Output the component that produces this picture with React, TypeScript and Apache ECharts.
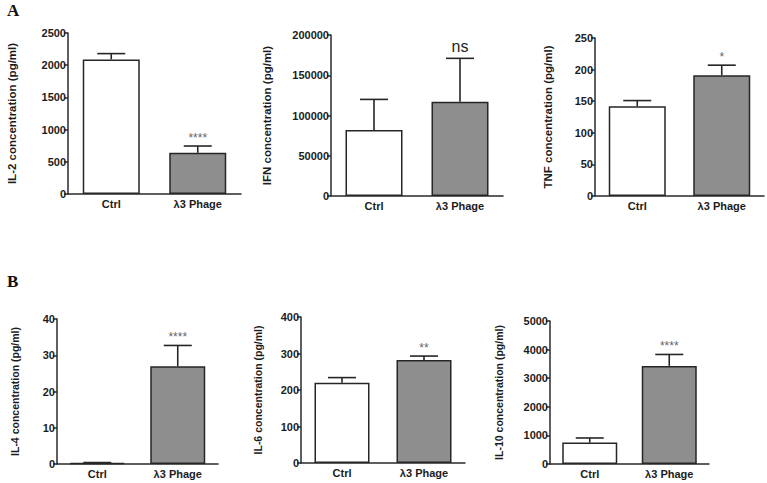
import React, { useEffect, useRef } from "react";
import * as echarts from "echarts";

// ---- data ----
const categories = ["Ctrl", "λ3 Phage"];

const il2Means = [2090, 640];
const il2Errors = [90, 105];
const ifnMeans = [82000, 117000];
const ifnErrors = [38000, 54000];
const tnfMeans = [142, 191];
const tnfErrors = [9, 16];
const il4Means = [0.3, 27];
const il4Errors = [0.1, 5.7];
const il6Means = [220, 282];
const il6Errors = [14, 11];
const il10Means = [750, 3430];
const il10Errors = [160, 400];

const yTitles = [
  "IL-2 concentration (pg/ml)",
  "IFN concentration (pg/ml)",
  "TNF concentration (pg/ml)",
  "IL-4 concentration (pg/ml)",
  "IL-6 concentration (pg/ml)",
  "IL-10 concentration (pg/ml)",
];
const yMaxes = [2500, 200000, 250, 40, 400, 5000];
const yIntervals = [500, 50000, 50, 10, 100, 1000];
const significance = [
  ["", "****"],
  ["", "ns"],
  ["", "*"],
  ["", "****"],
  ["", "**"],
  ["", "****"],
];

const means = [il2Means, ifnMeans, tnfMeans, il4Means, il6Means, il10Means];
const errors = [il2Errors, ifnErrors, tnfErrors, il4Errors, il6Errors, il10Errors];

// ---- layout ----
const grids = [
  { left: 68, top: 33, width: 173, height: 161, gap: 50, barW: 57, nameSize: 11.5 },
  { left: 331, top: 35, width: 172, height: 161, gap: 58, barW: 57, nameSize: 11.5 },
  { left: 595, top: 38, width: 169, height: 158, gap: 41, barW: 57, nameSize: 11.5 },
  { left: 57, top: 319, width: 161, height: 145, gap: 37, barW: 55, nameSize: 10.5 },
  { left: 301, top: 317, width: 164, height: 146, gap: 38, barW: 55, nameSize: 10.5 },
  { left: 550, top: 321, width: 159, height: 143, gap: 46, barW: 55, nameSize: 10.5 },
];

const FONT = "Liberation Sans, Arial, sans-serif";
const INK = "#1c1c1c";
const BAR_FILL = ["#ffffff", "#8e8e8e"];

export default function App() {
  const ref = useRef<HTMLDivElement>(null);
  useEffect(() => {
    if (!ref.current) return;
    const chart = echarts.init(ref.current, undefined, { renderer: "svg" });

    const grid: any[] = [];
    const xAxis: any[] = [];
    const yAxis: any[] = [];
    const series: any[] = [];

    grids.forEach((g, i) => {
      grid.push({ left: g.left, top: g.top, width: g.width, height: g.height, containLabel: false });
      xAxis.push({
        type: "category",
        gridIndex: i,
        data: categories,
        axisLine: { lineStyle: { color: "#2a2a2a", width: 1.5 } },
        axisTick: { alignWithLabel: true, length: 4, lineStyle: { color: "#2a2a2a", width: 1.5 } },
        axisLabel: { color: INK, fontSize: 11, fontWeight: "bold", fontFamily: FONT, margin: 4 },
      });
      yAxis.push({
        type: "value",
        gridIndex: i,
        min: 0,
        max: yMaxes[i],
        interval: yIntervals[i],
        splitLine: { show: false },
        axisLine: { show: true, lineStyle: { color: "#2a2a2a", width: 1.5 } },
        axisTick: { show: true, length: 4, lineStyle: { color: "#2a2a2a", width: 1.5 } },
        axisLabel: {
          color: INK,
          fontSize: 11,
          fontWeight: "bold",
          fontFamily: FONT,
          margin: 2,
          formatter: (v: number) => String(v),
        },
        name: yTitles[i],
        nameLocation: "middle",
        nameGap: g.gap,
        nameTextStyle: { color: INK, fontSize: g.nameSize, fontWeight: "bold", fontFamily: FONT },
      });
      series.push({
        type: "bar",
        xAxisIndex: i,
        yAxisIndex: i,
        barWidth: g.barW,
        data: means[i].map((v, k) => ({ value: v, itemStyle: { color: BAR_FILL[k] } })),
        itemStyle: { borderColor: "#262626", borderWidth: 1.5 },
        z: 2,
      });
      series.push({
        type: "custom",
        xAxisIndex: i,
        yAxisIndex: i,
        z: 3,
        data: means[i].map((v, k) => [k, v, v + errors[i][k]]),
        renderItem: (params: any, api: any) => {
          const base = api.coord([api.value(0), api.value(1)]);
          const top = api.coord([api.value(0), api.value(2)]);
          const half = 14;
          const sig = significance[i][params.dataIndex];
          const children: any[] = [
            {
              type: "line",
              shape: { x1: base[0], y1: base[1], x2: top[0], y2: top[1] },
              style: { stroke: "#262626", lineWidth: 1.6 },
            },
            {
              type: "line",
              shape: { x1: top[0] - half, y1: top[1], x2: top[0] + half, y2: top[1] },
              style: { stroke: "#262626", lineWidth: 1.6 },
            },
          ];
          if (sig) {
            const isNs = sig === "ns";
            children.push({
              type: "text",
              x: top[0],
              y: top[1] - (isNs ? 12 : 8),
              style: {
                text: sig,
                fontFamily: FONT,
                fontSize: isNs ? 16 : 12,
                fill: isNs ? "#222" : "#666",
                align: "center",
                verticalAlign: "middle",
              },
            });
          }
          return { type: "group", children };
        },
      });
    });

    chart.setOption({
      animation: false,
      backgroundColor: "#ffffff",
      grid,
      xAxis,
      yAxis,
      series,
      graphic: [
        {
          type: "text",
          left: 7,
          top: 2,
          style: { text: "A", fontFamily: "Liberation Serif, serif", fontWeight: "bold", fontSize: 17, fill: "#111" },
        },
        {
          type: "text",
          left: 7,
          top: 273,
          style: { text: "B", fontFamily: "Liberation Serif, serif", fontWeight: "bold", fontSize: 17, fill: "#111" },
        },
      ],
    });
    return () => chart.dispose();
  }, []);

  return (
    <div
      ref={ref}
      style={{ position: "fixed", left: 0, top: 0, width: 767, height: 483, background: "#fff" }}
    />
  );
}
